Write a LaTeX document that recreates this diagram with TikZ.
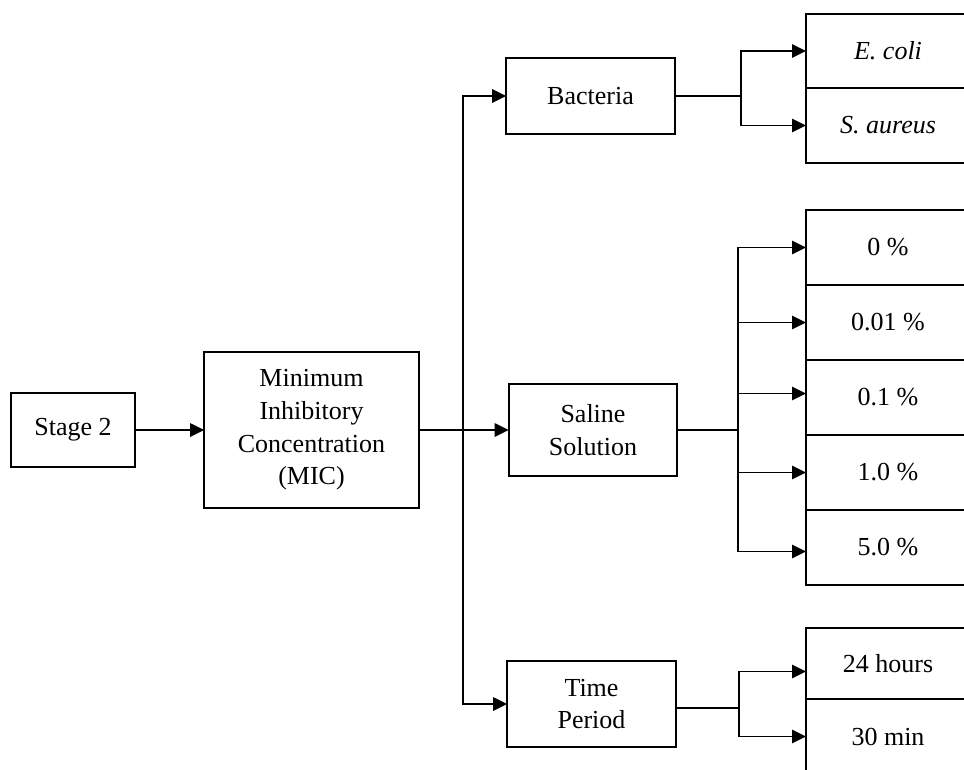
\documentclass[tikz,border=0pt]{standalone}
\usepackage{fontspec}
\setmainfont{Liberation Serif}
\usetikzlibrary{positioning, calc, arrows.meta}

\begin{document}
\begin{tikzpicture}[
  x=0.75pt, y=-0.75pt,
  %% all boxes
  bx/.style={
    rectangle, draw=black, line width=1.4pt, inner sep=0pt, outer sep=0pt,
    align=center, fill=white,
    font=\fontsize{19.5}{24.5}\selectfont
  },
  %% middle column boxes
  mid/.style={bx, minimum width=126.5pt},
  %% right column boxes (cut by the page edge)
  rbox/.style={bx, minimum width=123pt, minimum height=56.25pt},
  %% arrows and plain lines
  arr/.style={-{Triangle[length=10.5pt,width=10pt]}, line width=1.4pt},
  ln/.style={line width=1.4pt}
]
\clip (0,0) rectangle (964,769);

%% ================================================================
%% LEFT PART
%% ================================================================
\node[bx, minimum width=93pt, minimum height=56pt] (stage) at (73,430) {Stage 2};

\node[bx, minimum width=161pt, minimum height=117pt] (mic) at (311.5,430) {
  Minimum\\
  Inhibitory\\
  Concentration\\
  (MIC)
};

\draw[arr] (stage) -- (mic);

%% ================================================================
%% MIDDLE COLUMN
%% ================================================================
\node[mid, minimum height=57pt] (bact) at (590.5,96) {Bacteria};
\node[mid, minimum height=69pt] (saline) at (593,430) {Saline\\Solution};
\node[mid, minimum height=64pt] (time) at (591.5,704) {Time\\Period};

\coordinate (split) at (463,430);

\draw[ln] (mic.east) -- (split);
\draw[arr] (split) |- (bact.west);
\draw[arr] (split) -- (saline.west);
\draw[arr] (split) |- (time.west);

%% ================================================================
%% BACTERIA
%% ================================================================
\node[rbox, minimum height=55.5pt] (ecoli) at (888,51) {\itshape E. coli};
\node[rbox, below=0pt of ecoli] (saureus) {\itshape S. aureus};

\coordinate (bsplit) at (741,96);

\draw[ln] (bact.east) -- (bsplit);
\draw[arr] (bsplit) |- (ecoli.west);
\draw[arr] (bsplit) |- (saureus.west);

%% ================================================================
%% SALINE SOLUTION
%% ================================================================
\node[rbox] (nacl0) at (888,247.5) {0 \%};
\node[rbox, below=0pt of nacl0] (nacl1) {0.01 \%};
\node[rbox, below=0pt of nacl1] (nacl2) {0.1 \%};
\node[rbox, below=0pt of nacl2] (nacl3) {1.0 \%};
\node[rbox, below=0pt of nacl3] (nacl4) {5.0 \%};

\coordinate (ssplit) at (738,430);

\draw[ln] (saline.east) -- (ssplit);
\draw[arr] (ssplit) |- (nacl0.west);
\draw[arr] (ssplit) |- (nacl1.west);
\draw[arr] (ssplit) |- ([yshift=3pt]nacl2.west);
\draw[arr] (ssplit) |- (nacl3.west);
\draw[arr] (ssplit) |- ([yshift=-3pt]nacl4.west);

%% ================================================================
%% TIME PERIOD
%% ================================================================
\node[rbox, minimum height=53.25pt] (hours) at (888,663.5) {24 hours};
\node[rbox, below=0pt of hours] (mins) {30 min};

\coordinate (tsplit) at (739,708);

\draw[ln] (time.east |- tsplit) -- (tsplit);
\draw[arr] (tsplit) |- ([yshift=-6pt]hours.west);
\draw[arr] (tsplit) |- (mins.west);

\end{tikzpicture}
\end{document}
